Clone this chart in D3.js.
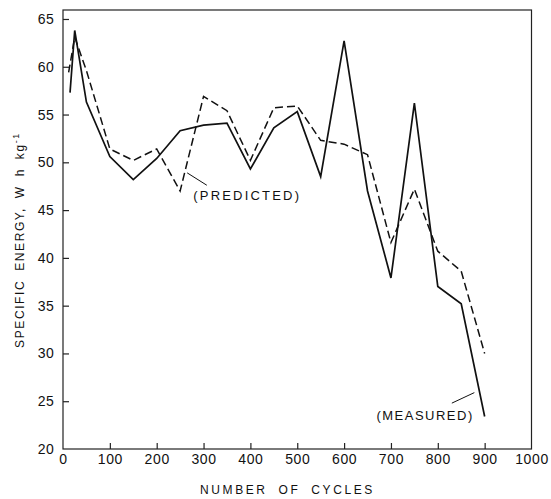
<!DOCTYPE html>
<html><head><meta charset="utf-8">
<script src="https://cdn.jsdelivr.net/npm/d3@7/dist/d3.min.js"></script>
<style>body{margin:0;background:#fff}svg{display:block}text{font-family:"Liberation Sans",Arial,sans-serif;fill:#111}</style>
</head><body><svg id="c" width="551" height="499"></svg>
<script>
const cyclesMeasured = [15, 25, 50, 100, 150, 200, 250, 300, 350, 400, 450, 500, 550, 600, 650, 700, 750, 800, 850, 900];
const measured =       [57.3, 63.8, 56.3, 50.6, 48.2, 50.4, 53.3, 53.9, 54.1, 49.3, 53.6, 55.3, 48.5, 62.7, 47.0, 37.9, 56.2, 37.0, 35.2, 23.4];
const cyclesPredicted = [12, 25, 50, 100, 150, 200, 250, 300, 350, 400, 450, 500, 550, 600, 650, 700, 750, 800, 850, 900];
const predicted =       [59.4, 63.1, 59.6, 51.4, 50.2, 51.4, 47.0, 56.9, 55.4, 50.2, 55.7, 55.9, 52.3, 51.9, 50.8, 41.6, 47.2, 40.7, 38.6, 30.0];
const xTicks = [0, 100, 200, 300, 400, 500, 600, 700, 800, 900, 1000];
const yTicks = [20, 25, 30, 35, 40, 45, 50, 55, 60, 65];
const xTitle = "NUMBER OF CYCLES";
const yTitle = "SPECIFIC ENERGY,  W h kg";

const svg = d3.select("#c");
const L = 63, R = 531.5, T = 10, B = 449;
const x = d3.scaleLinear().domain([0, 1000]).range([L, R]);
const y = d3.scaleLinear().domain([20, 65.94]).range([B, T]);

// frame
svg.append("rect").attr("x", L).attr("y", T).attr("width", R - L).attr("height", B - T)
  .attr("fill", "none").attr("stroke", "#222").attr("stroke-width", 1.2);

// x axis
const xa = svg.append("g").attr("transform", `translate(0,${B})`)
  .call(d3.axisBottom(x).tickValues(xTicks).tickSizeInner(-6).tickSizeOuter(0).tickPadding(5).tickFormat(d3.format("d")));
xa.select(".domain").remove();
xa.selectAll(".tick line").attr("stroke", "#222").attr("stroke-width", 1.2)
  .attr("display", d => (d === 0 || d === 1000) ? "none" : null);
xa.selectAll(".tick text").attr("font-size", 14).attr("letter-spacing", 0.6).attr("fill", "#111").attr("font-family", '"Liberation Sans",Arial,sans-serif');

// y axis
const ya = svg.append("g").attr("transform", `translate(${L},0)`)
  .call(d3.axisLeft(y).tickValues(yTicks).tickSizeInner(-6).tickSizeOuter(0).tickPadding(9));
ya.select(".domain").remove();
ya.selectAll(".tick line").attr("stroke", "#222").attr("stroke-width", 1.2)
  .attr("display", d => d === 20 ? "none" : null);
ya.selectAll(".tick text").attr("font-size", 14).attr("letter-spacing", 0.3).attr("fill", "#111").attr("font-family", '"Liberation Sans",Arial,sans-serif');

// lines
const line = d3.line().x(d => x(d[0])).y(d => y(d[1]));
svg.append("path").datum(cyclesPredicted.map((c, i) => [c, predicted[i]]))
  .attr("d", line).attr("fill", "none").attr("stroke", "#111").attr("stroke-width", 1.5)
  .attr("stroke-dasharray", "8,4");
svg.append("path").datum(cyclesMeasured.map((c, i) => [c, measured[i]]))
  .attr("d", line).attr("fill", "none").attr("stroke", "#111").attr("stroke-width", 1.7);

// annotations
svg.append("line").attr("x1", x(265)).attr("y1", y(48.9)).attr("x2", x(307)).attr("y2", y(47.6))
  .attr("stroke", "#111").attr("stroke-width", 1);
svg.append("text").attr("x", x(278)).attr("y", y(46.5)).attr("dy", "0.35em")
  .attr("font-size", 13).attr("letter-spacing", 2.2).text("(PREDICTED)");
svg.append("line").attr("x1", x(830)).attr("y1", y(24.8)).attr("x2", x(878)).attr("y2", y(25.9))
  .attr("stroke", "#111").attr("stroke-width", 1);
svg.append("text").attr("x", x(669)).attr("y", y(23.55)).attr("dy", "0.35em")
  .attr("font-size", 13).attr("letter-spacing", 1.5).text("(MEASURED)");

// titles
svg.append("text").attr("x", 287.5).attr("y", 494).attr("text-anchor", "middle")
  .attr("font-size", 12).attr("letter-spacing", 2.6).attr("word-spacing", 5).text(xTitle);
const yt = svg.append("text").attr("transform", "translate(24,240) rotate(-90)").attr("text-anchor", "middle")
  .attr("font-size", 12).attr("letter-spacing", 1.6).attr("word-spacing", 4);
yt.append("tspan").text(yTitle);
yt.append("tspan").attr("dy", -5).attr("font-size", 9).text("-1");
</script></body></html>
